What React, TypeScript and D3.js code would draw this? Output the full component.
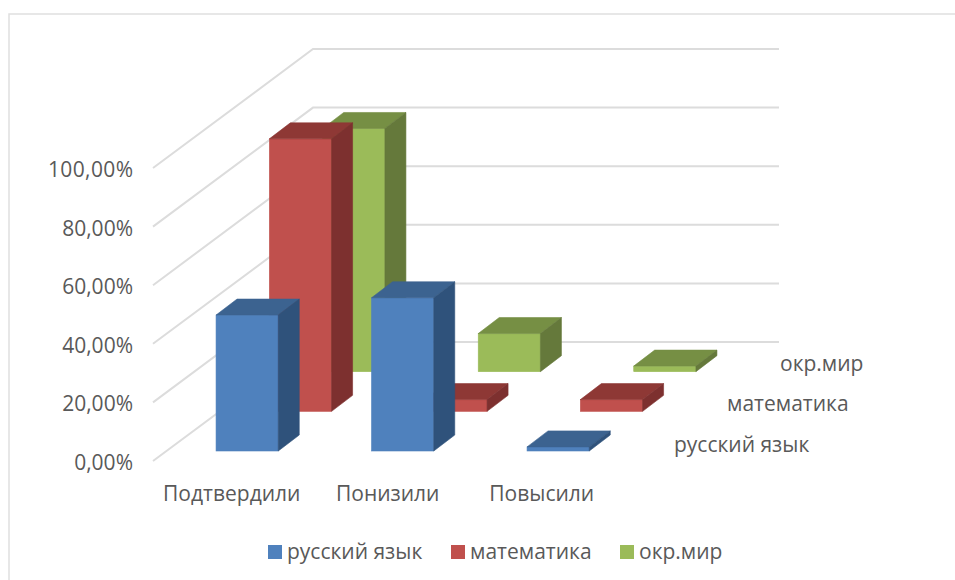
import * as d3 from 'd3'

const WIDTH = 955
const HEIGHT = 580
const FONT = '"Open Sans", sans-serif'
const FONT_SIZE = 21
const TEXT_COLOR = '#595959'
const GRID_COLOR = '#dcdcdc'

const categories = ['Подтвердили', 'Понизили', 'Повысили']
const seriesNames = ['русский язык', 'математика', 'окр.мир']
const russian = [46.4, 52.3, 1.4]
const maths = [93, 4, 4]
const world = [83, 13, 1.9]
const yTicks = [0, 20, 40, 60, 80, 100]
const tickLabels = ['0,00%', '20,00%', '40,00%', '60,00%', '80,00%', '100,00%']

const seriesValues = [russian, maths, world]
const faces = [
  {front: '#4f81bd', top: '#3c6390', side: '#2f527b'},
  {front: '#c0504d', top: '#8e3835', side: '#7d302f'},
  {front: '#9bbb59', top: '#768f44', side: '#65793b'},
]

// floor corners of the 3d box
const FLOOR = {x: 153, y: 461, backX: 313, backY: 342, rightX: 779}

const yScale = d3.scaleLinear().domain([0, 100]).range([0, -293])
const xScale = d3
  .scaleBand<string>()
  .domain(categories)
  .range([156, 622.5])
  .paddingInner(0.6)
  .paddingOuter(0.3)
const depthX = d3
  .scaleBand<string>()
  .domain(seriesNames)
  .range([0, FLOOR.backX - FLOOR.x])
const depthY = d3
  .scaleBand<string>()
  .domain(seriesNames)
  .range([0, FLOOR.y - FLOOR.backY])

const BAR_DX = 21
const BAR_DY = 16
const INSET_X = 13.4
const INSET_Y = 10

const poly = (points: [number, number][]) => d3.line()(points) + 'Z'

const legendX = [268, 451, 620]
const seriesLabelX = [674, 727, 780]
const seriesLabelY = [445, 404, 364]
const categoryNudge = [-2, -1.5, -3]

export default function App() {
  const w = xScale.bandwidth()

  const bars = seriesNames
    .map((name, s) => {
      const baseY = FLOOR.y - depthY(name)! - INSET_Y
      const offset = depthX(name)! + INSET_X
      return categories.map((cat, c) => {
        const x = xScale(cat)! + offset
        const topY = baseY + yScale(seriesValues[s][c])
        const face = faces[s]
        return (
          <g key={name + cat} strokeWidth={0.6}>
            <rect
              x={x}
              y={topY}
              width={w}
              height={baseY - topY}
              fill={face.front}
              stroke={face.front}
            />
            <path
              d={poly([
                [x, topY],
                [x + w, topY],
                [x + w + BAR_DX, topY - BAR_DY],
                [x + BAR_DX, topY - BAR_DY],
              ])}
              fill={face.top}
              stroke={face.top}
            />
            <path
              d={poly([
                [x + w, topY],
                [x + w + BAR_DX, topY - BAR_DY],
                [x + w + BAR_DX, baseY - BAR_DY],
                [x + w, baseY],
              ])}
              fill={face.side}
              stroke={face.side}
            />
          </g>
        )
      })
    })
    .reverse()

  return (
    <svg
      width={WIDTH}
      height={HEIGHT}
      style={{position: 'absolute', left: 0, top: 0, background: '#fff'}}
      fontFamily={FONT}
      fontSize={FONT_SIZE}
      fill={TEXT_COLOR}>
      <path d={`M9,${HEIGHT}V14H${WIDTH}`} fill="none" stroke="#e0e0e0" strokeWidth={1.5} />

      {yTicks.map(t => {
        const dy = yScale(t)
        return (
          <path
            key={t}
            d={`M${FLOOR.x},${FLOOR.y + dy}L${FLOOR.backX},${FLOOR.backY + dy}H${FLOOR.rightX}`}
            fill="none"
            stroke={GRID_COLOR}
            strokeWidth={2}
          />
        )
      })}

      {yTicks.map((t, i) => (
        <text key={t} x={133} y={FLOOR.y + yScale(t) + 9} textAnchor="end" textLength={i === 5 ? 85 : undefined}>
          {tickLabels[i]}
        </text>
      ))}

      {bars}

      {categories.map((cat, i) => (
        <text key={cat} x={xScale(cat)! + w / 2 + categoryNudge[i]} y={501} textAnchor="middle">
          {cat}
        </text>
      ))}

      {seriesNames.map((name, i) => (
        <text key={name} x={seriesLabelX[i]} y={seriesLabelY[i] + 7}>
          {name}
        </text>
      ))}

      {seriesNames.map((name, i) => (
        <g key={name}>
          <rect x={legendX[i]} y={545} width={14} height={14} fill={faces[i].front} />
          <text x={legendX[i] + 19} y={559}>
            {name}
          </text>
        </g>
      ))}
    </svg>
  )
}
